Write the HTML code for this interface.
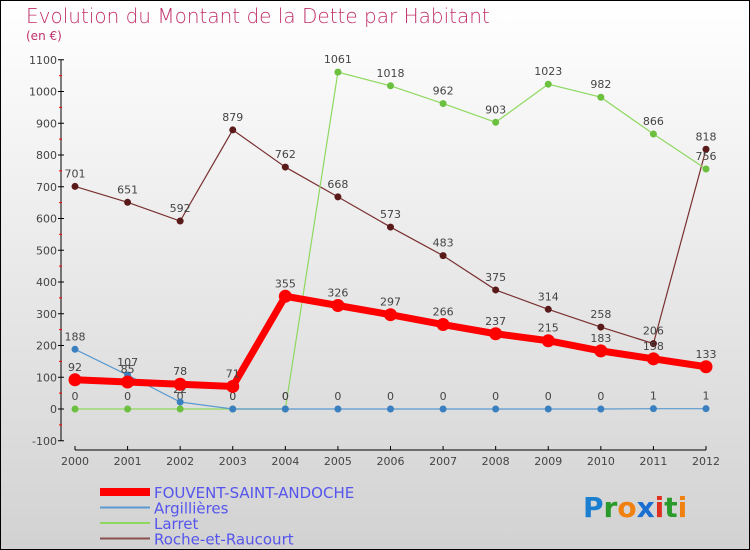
<!DOCTYPE html>
<html><head><meta charset="utf-8"><style>
body{margin:0;width:750px;height:550px;overflow:hidden;font-family:"DejaVu Sans","Liberation Sans",sans-serif}
#c{position:absolute;left:0;top:0;width:748px;height:548px;border:1px solid #000;background:linear-gradient(#fff,#d2d2d2)}
</style></head><body>
<div id="c"></div>
<svg id="s" width="750" height="550" style="position:absolute;left:0;top:0">
<text x="26" y="23" font-size="20" fill="#c0306a" font-weight="300">Evolution du Montant de la Dette par Habitant</text>
<text x="26" y="40" font-size="12" fill="#c0306a">(en €)</text>
<g id="axes"></g><g id="series"></g><g id="legend"></g>
<text x="583" y="517" font-size="28" font-weight="bold"><tspan fill="#1a7fd0">P</tspan><tspan fill="#2a9a2a">r</tspan><tspan fill="#f08010">o</tspan><tspan fill="#1a6fd0">x</tspan><tspan fill="#e03020">i</tspan><tspan fill="#2a9a2a">t</tspan><tspan fill="#f08010">i</tspan></text>
</svg>
<script>
const years=[2000,2001,2002,2003,2004,2005,2006,2007,2008,2009,2010,2011,2012];
const yTicks=[-100,0,100,200,300,400,500,600,700,800,900,1000,1100];
const fouvent=[92,85,78,71,355,326,297,266,237,215,183,158,133];
const argil=[188,107,22,0,0,0,0,0,0,0,0,1,1];
const larret=[0,0,0,0,0,1061,1018,962,903,1023,982,866,756];
const roche=[701,651,592,879,762,668,573,483,375,314,258,206,818];
const NS="http://www.w3.org/2000/svg";
const X=i=>75+i*(706-75)/12, Y=v=>409-v*0.3175;
function mk(t,a,p){const e=document.createElementNS(NS,t);for(const k in a)e.setAttribute(k,a[k]);(p||document.getElementById('axes')).appendChild(e);return e;}
const ax=document.getElementById('axes');
let e=mk('line',{x1:61,y1:Y(1100),x2:61,y2:Y(-100),stroke:'#000'});

e=mk('line',{x1:75,y1:450,x2:706,y2:450,stroke:'#000'});

yTicks.forEach((v,i)=>{mk('line',{x1:58,x2:64,y1:Y(v),y2:Y(v),stroke:'#000'});
 if(i<yTicks.length-1)mk('line',{x1:59,x2:62,y1:Y(v+50),y2:Y(v+50),stroke:'#f00'});
 const t=mk('text',{x:57,y:Y(v)+4,'font-size':11,'text-anchor':'end',fill:'#444'});t.textContent=v;
 });
years.forEach((y,i)=>{mk('line',{x1:X(i),x2:X(i),y1:446,y2:450,stroke:'#000'});
 const t=mk('text',{x:X(i),y:465,'font-size':11,'text-anchor':'middle',fill:'#444'});t.textContent=y;
 });
const sg=document.getElementById('series');
function series(name,data,col,dot,w,r,lab){
 const g=mk('g',{},sg);
 mk('polyline',{points:data.map((v,i)=>X(i)+','+Y(v)).join(' '),fill:'none',stroke:col,'stroke-width':w},g);
 data.forEach((v,i)=>{const c=mk('circle',{cx:X(i),cy:Y(v),r:r,fill:dot},g);
  
  if(lab){const t=mk('text',{x:X(i),y:Y(v)-9,'font-size':11,'text-anchor':'middle',fill:'#444'},g);t.textContent=v;}});
}
series('roche-series',roche,'#7a3030','#5a1a1a',1.2,3.5,true);
series('larret-series',larret,'#8fd860','#6cc040',1.2,3.5,true);
series('argillieres-series',argil,'#5a9ad0','#3a80c0',1.2,3.5,true);
series('fouvent-series',fouvent,'#f00','#f00',7,6.5,true);
const lg=document.getElementById('legend');
[['FOUVENT-SAINT-ANDOCHE','#f00',8],['Argillières','#5a9ad0',2],['Larret','#8fd860',2],['Roche-et-Raucourt','#8a5050',2]].forEach((d,i)=>{
 const y=492+i*15.5;const g=mk('g',{},lg);
 mk('line',{x1:100,x2:150,y1:y,y2:y,stroke:d[1],'stroke-width':d[2]},g);
 const t=mk('text',{x:154,y:y+6,'font-size':15,fill:'#5555ee'},g);t.textContent=d[0];});
</script>
</body></html>
